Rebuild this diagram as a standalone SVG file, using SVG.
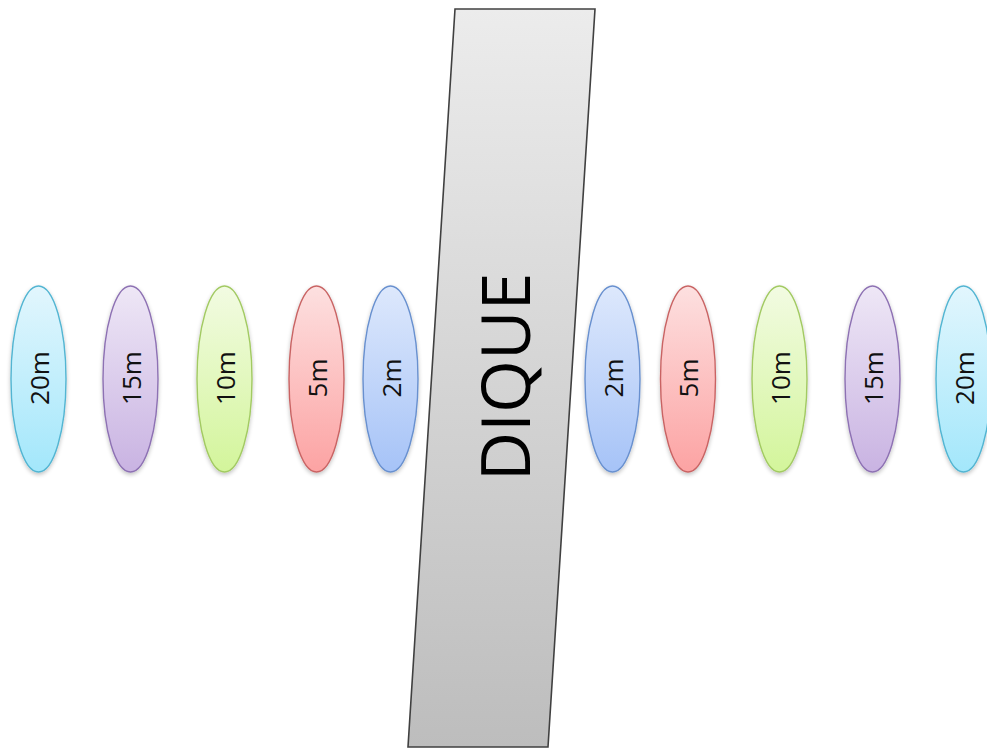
<svg xmlns="http://www.w3.org/2000/svg" width="987" height="749" viewBox="0 0 987 749">
  <defs>
    <linearGradient id="gDike" x1="0" y1="0" x2="0" y2="1">
      <stop offset="0" stop-color="#ececec"/>
      <stop offset="1" stop-color="#bdbdbd"/>
    </linearGradient>
    <linearGradient id="gBlue" x1="0" y1="0" x2="0" y2="1">
      <stop offset="0" stop-color="#dde8fc"/>
      <stop offset="1" stop-color="#a6c3f7"/>
    </linearGradient>
    <linearGradient id="gRed" x1="0" y1="0" x2="0" y2="1">
      <stop offset="0" stop-color="#fde0e0"/>
      <stop offset="1" stop-color="#fca3a3"/>
    </linearGradient>
    <linearGradient id="gGreen" x1="0" y1="0" x2="0" y2="1">
      <stop offset="0" stop-color="#f2fbe2"/>
      <stop offset="1" stop-color="#d3f59b"/>
    </linearGradient>
    <linearGradient id="gPurple" x1="0" y1="0" x2="0" y2="1">
      <stop offset="0" stop-color="#eee7f6"/>
      <stop offset="1" stop-color="#c9b3e2"/>
    </linearGradient>
    <linearGradient id="gCyan" x1="0" y1="0" x2="0" y2="1">
      <stop offset="0" stop-color="#e2f6fd"/>
      <stop offset="1" stop-color="#a3e7fb"/>
    </linearGradient>
    <filter id="shadow" x="-30%" y="-10%" width="160%" height="125%">
      <feGaussianBlur in="SourceAlpha" stdDeviation="2"/>
      <feOffset dx="0" dy="2" result="b"/>
      <feComponentTransfer><feFuncA type="linear" slope="0.25"/></feComponentTransfer>
      <feMerge><feMergeNode/><feMergeNode in="SourceGraphic"/></feMerge>
    </filter>
  </defs>
  <style>
    .lbl { font-family: "Open Sans", "Liberation Sans", sans-serif; font-size: 26px; fill: #111; text-anchor: middle; dominant-baseline: central; }
    .dike-lbl { font-family: "Open Sans", "Liberation Sans", sans-serif; font-size: 68px; fill: #000; text-anchor: middle; dominant-baseline: central; }
    .ell { stroke-width: 1.4; filter: url(#shadow); }
    .blue { fill: url(#gBlue); stroke: #6890cf; }
    .red { fill: url(#gRed); stroke: #c96464; }
    .green { fill: url(#gGreen); stroke: #a2ca62; }
    .purple { fill: url(#gPurple); stroke: #8d71b3; }
    .cyan { fill: url(#gCyan); stroke: #52b5d2; }
  </style>

  <rect width="987" height="749" fill="#ffffff"/>

  <!-- Dike -->
  <g id="dique">
    <polygon points="455,9 595,9 548,747 408,747" fill="url(#gDike)" stroke="#404040" stroke-width="1.6"/>
    <text class="dike-lbl" transform="translate(503,377) rotate(-90)">DIQUE</text>
  </g>

  <!-- Left side -->
  <g id="left-20m">
    <ellipse class="ell cyan" cx="38.5" cy="379" rx="27.5" ry="93"/>
    <text class="lbl" transform="translate(38.5,378) rotate(-90)">20m</text>
  </g>
  <g id="left-15m">
    <ellipse class="ell purple" cx="130.5" cy="379" rx="27.5" ry="93"/>
    <text class="lbl" transform="translate(130.5,378) rotate(-90)">15m</text>
  </g>
  <g id="left-10m">
    <ellipse class="ell green" cx="224.5" cy="379" rx="27.5" ry="93"/>
    <text class="lbl" transform="translate(224.5,378) rotate(-90)">10m</text>
  </g>
  <g id="left-5m">
    <ellipse class="ell red" cx="316.5" cy="379" rx="27.5" ry="93"/>
    <text class="lbl" transform="translate(316.5,378) rotate(-90)">5m</text>
  </g>
  <g id="left-2m">
    <ellipse class="ell blue" cx="390.5" cy="379" rx="27.5" ry="93"/>
    <text class="lbl" transform="translate(390.5,378) rotate(-90)">2m</text>
  </g>

  <!-- Right side -->
  <g id="right-2m">
    <ellipse class="ell blue" cx="612.5" cy="379" rx="27.5" ry="93"/>
    <text class="lbl" transform="translate(612.5,378) rotate(-90)">2m</text>
  </g>
  <g id="right-5m">
    <ellipse class="ell red" cx="688" cy="379" rx="27.5" ry="93"/>
    <text class="lbl" transform="translate(688,378) rotate(-90)">5m</text>
  </g>
  <g id="right-10m">
    <ellipse class="ell green" cx="779.5" cy="379" rx="27.5" ry="93"/>
    <text class="lbl" transform="translate(779.5,378) rotate(-90)">10m</text>
  </g>
  <g id="right-15m">
    <ellipse class="ell purple" cx="872.5" cy="379" rx="27.5" ry="93"/>
    <text class="lbl" transform="translate(872.5,378) rotate(-90)">15m</text>
  </g>
  <g id="right-20m">
    <ellipse class="ell cyan" cx="963.5" cy="379" rx="27.5" ry="93"/>
    <text class="lbl" transform="translate(963.5,378) rotate(-90)">20m</text>
  </g>

  <g id="connectors"/>
</svg>
